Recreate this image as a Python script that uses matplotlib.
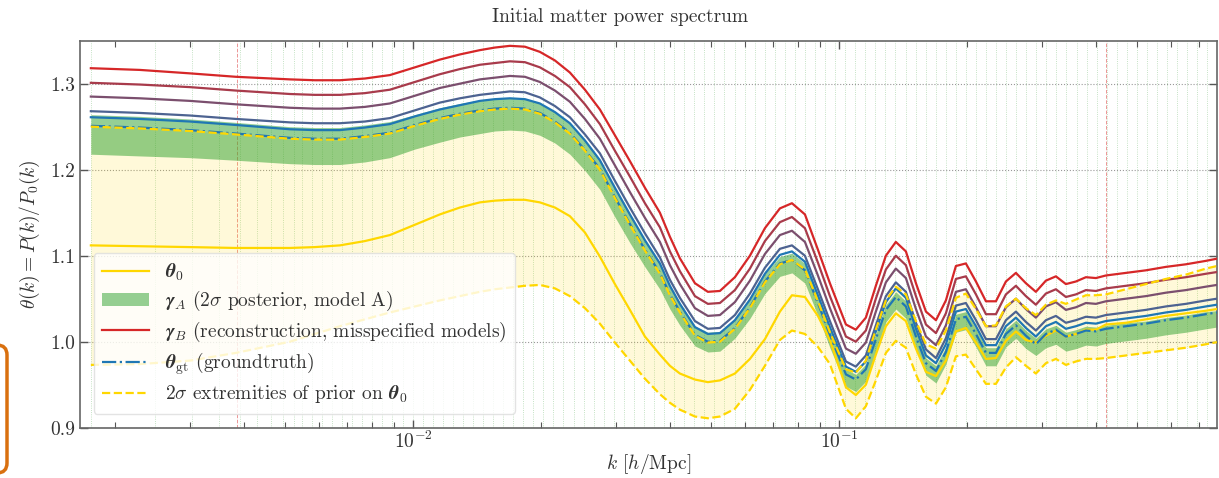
import matplotlib
matplotlib.use("Agg")
import matplotlib.pyplot as plt
import numpy as np
from matplotlib.lines import Line2D
from matplotlib.patches import Patch, FancyBboxPatch
from matplotlib.mathtext import MathTextParser
from matplotlib.ticker import FormatStrFormatter, LogLocator, NullFormatter

plt.rcParams['font.family'] = 'serif'
plt.rcParams['font.serif'] = ['cmr10', 'DejaVu Serif']
plt.rcParams['mathtext.fontset'] = 'cm'
plt.rcParams['axes.formatter.use_mathtext'] = True
plt.rcParams['axes.unicode_minus'] = False

#### DATA
k = [0.001751, 0.002283, 0.002991, 0.003836, 0.005136, 0.005877, 0.006728, 0.007700, 0.008817, 0.010093,
     0.01155, 0.01287, 0.01434, 0.01555, 0.01687, 0.01829, 0.01983, 0.02151, 0.02332, 0.02530,
     0.02743, 0.02975, 0.03226, 0.03499, 0.03794, 0.04005, 0.04227, 0.04585, 0.04917,
     0.05248, 0.05690, 0.06172, 0.06693, 0.07258, 0.07745, 0.08309, 0.08913, 0.09510, 0.1037,
     0.1094, 0.1155, 0.1219, 0.1287, 0.1358, 0.1434, 0.1514, 0.1598, 0.1687, 0.1780,
     0.1879, 0.1983, 0.2094, 0.2210, 0.2333, 0.2462, 0.2599, 0.2743, 0.2895, 0.3056,
     0.3226, 0.3405, 0.3594, 0.3794, 0.4005, 0.4227, 0.4710, 0.5248, 0.5847, 0.6514,
     0.7258, 0.7700]

# groundtruth
theta_gt = [1.251, 1.249, 1.246, 1.242, 1.237, 1.236, 1.236, 1.239, 1.243, 1.252,
            1.260, 1.265, 1.269, 1.271, 1.272, 1.271, 1.266, 1.256, 1.243, 1.223,
            1.201, 1.168, 1.137, 1.107, 1.080, 1.055, 1.035, 1.008, 1.000,
            1.001, 1.016, 1.040, 1.070, 1.091, 1.095, 1.083, 1.045, 1.008, 0.962,
            0.956, 0.968, 1.003, 1.037, 1.052, 1.041, 1.006, 0.975, 0.966, 0.988,
            1.026, 1.029, 1.009, 0.987, 0.987, 1.009, 1.019, 1.007, 0.997, 1.009,
            1.014, 1.006, 1.009, 1.013, 1.012, 1.015, 1.018, 1.021, 1.025, 1.028,
            1.032, 1.034]

# prior mean
theta_0 = [1.112, 1.111, 1.110, 1.109, 1.109, 1.110, 1.112, 1.117, 1.124, 1.136,
           1.148, 1.156, 1.162, 1.164, 1.165, 1.165, 1.162, 1.156, 1.146, 1.127,
           1.099, 1.067, 1.037, 1.006, 0.985, 0.972, 0.963, 0.956, 0.953,
           0.955, 0.963, 0.980, 1.003, 1.035, 1.054, 1.052, 1.030, 1.002, 0.947,
           0.938, 0.950, 0.985, 1.018, 1.033, 1.024, 0.992, 0.965, 0.960, 0.978,
           1.012, 1.016, 0.999, 0.980, 0.981, 1.001, 1.012, 1.002, 0.999, 1.007,
           1.013, 1.006, 1.009, 1.014, 1.014, 1.020, 1.022, 1.026, 1.030, 1.033,
           1.036, 1.038]

# 2 sigma extremities of the prior
prior_hi = [1.250, 1.248, 1.245, 1.241, 1.236, 1.235, 1.235, 1.238, 1.242, 1.251,
            1.259, 1.264, 1.268, 1.270, 1.271, 1.270, 1.265, 1.255, 1.242, 1.222,
            1.200, 1.167, 1.136, 1.106, 1.079, 1.054, 1.034, 1.007, 0.999,
            1.000, 1.015, 1.039, 1.069, 1.090, 1.095, 1.084, 1.047, 1.011, 0.968,
            0.964, 0.978, 1.014, 1.048, 1.064, 1.055, 1.024, 0.997, 0.992, 1.013,
            1.051, 1.056, 1.038, 1.018, 1.019, 1.041, 1.050, 1.039, 1.031, 1.043,
            1.048, 1.044, 1.049, 1.054, 1.054, 1.055, 1.061, 1.067, 1.073, 1.078,
            1.085, 1.088]
prior_lo = [0.973, 0.974, 0.978, 0.987, 1.000, 1.009, 1.018, 1.026, 1.034, 1.041,
            1.048, 1.053, 1.058, 1.061, 1.063, 1.065, 1.066, 1.062, 1.053, 1.039,
            1.021, 0.999, 0.978, 0.957, 0.939, 0.929, 0.921, 0.913, 0.911,
            0.913, 0.922, 0.944, 0.972, 1.002, 1.013, 1.009, 0.994, 0.974, 0.922,
            0.911, 0.925, 0.955, 0.987, 1.001, 0.993, 0.962, 0.936, 0.928, 0.947,
            0.983, 0.985, 0.968, 0.951, 0.951, 0.970, 0.982, 0.972, 0.963, 0.975,
            0.980, 0.973, 0.977, 0.980, 0.980, 0.981, 0.984, 0.987, 0.990, 0.993,
            0.997, 0.9995]

# 2 sigma posterior, model A
postA_hi = [1.264, 1.262, 1.259, 1.255, 1.250, 1.249, 1.249, 1.252, 1.256, 1.264,
            1.272, 1.277, 1.281, 1.283, 1.283, 1.282, 1.277, 1.267, 1.254, 1.234,
            1.212, 1.179, 1.147, 1.117, 1.090, 1.065, 1.045, 1.018, 1.011,
            1.012, 1.026, 1.049, 1.079, 1.099, 1.103, 1.091, 1.053, 1.015, 0.968,
            0.962, 0.974, 1.009, 1.043, 1.058, 1.047, 1.012, 0.981, 0.972, 0.994,
            1.032, 1.035, 1.015, 0.993, 0.993, 1.015, 1.025, 1.013, 1.004, 1.015,
            1.019, 1.011, 1.014, 1.018, 1.017, 1.019, 1.022, 1.024, 1.028, 1.031,
            1.035, 1.036]
postA_lo = [1.218, 1.216, 1.214, 1.211, 1.207, 1.206, 1.206, 1.209, 1.214, 1.224,
            1.232, 1.238, 1.242, 1.245, 1.246, 1.245, 1.240, 1.231, 1.218, 1.199,
            1.177, 1.145, 1.115, 1.087, 1.061, 1.038, 1.019, 0.995, 0.988,
            0.989, 1.004, 1.027, 1.056, 1.076, 1.080, 1.068, 1.030, 0.993, 0.948,
            0.942, 0.954, 0.989, 1.023, 1.038, 1.027, 0.992, 0.961, 0.952, 0.974,
            1.011, 1.014, 0.994, 0.972, 0.972, 0.994, 1.004, 0.992, 0.984, 0.993,
            0.997, 0.989, 0.992, 0.996, 0.995, 0.998, 1.001, 1.004, 1.008, 1.011,
            1.015, 1.017]

# reconstructions with misspecified models (red -> blue)
gammaB_1 = [1.318, 1.316, 1.312, 1.308, 1.305, 1.304, 1.304, 1.306, 1.310, 1.319,
            1.328, 1.334, 1.339, 1.342, 1.344, 1.343, 1.337, 1.327, 1.313, 1.293,
            1.270, 1.240, 1.210, 1.179, 1.150, 1.122, 1.097, 1.068, 1.058,
            1.059, 1.075, 1.100, 1.132, 1.155, 1.161, 1.148, 1.107, 1.068, 1.020,
            1.014, 1.028, 1.065, 1.100, 1.116, 1.105, 1.068, 1.035, 1.025, 1.048,
            1.088, 1.091, 1.070, 1.047, 1.047, 1.070, 1.080, 1.068, 1.058, 1.071,
            1.076, 1.067, 1.070, 1.075, 1.074, 1.077, 1.080, 1.083, 1.087, 1.090,
            1.094, 1.0965]
gammaB_2 = [1.301, 1.299, 1.296, 1.292, 1.288, 1.287, 1.287, 1.289, 1.293, 1.302,
            1.311, 1.317, 1.322, 1.324, 1.326, 1.325, 1.319, 1.309, 1.296, 1.276,
            1.253, 1.222, 1.192, 1.161, 1.133, 1.105, 1.082, 1.053, 1.044,
            1.045, 1.060, 1.085, 1.117, 1.139, 1.145, 1.132, 1.092, 1.053, 1.006,
            1.000, 1.013, 1.050, 1.084, 1.100, 1.089, 1.053, 1.020, 1.010, 1.033,
            1.073, 1.076, 1.055, 1.032, 1.032, 1.055, 1.065, 1.053, 1.043, 1.056,
            1.061, 1.052, 1.055, 1.060, 1.059, 1.062, 1.065, 1.068, 1.072, 1.075,
            1.079, 1.081]
gammaB_3 = [1.285, 1.283, 1.280, 1.276, 1.272, 1.271, 1.271, 1.273, 1.277, 1.286,
            1.295, 1.300, 1.305, 1.307, 1.309, 1.308, 1.302, 1.292, 1.279, 1.259,
            1.236, 1.205, 1.174, 1.144, 1.116, 1.089, 1.067, 1.039, 1.030,
            1.031, 1.046, 1.071, 1.102, 1.124, 1.129, 1.116, 1.077, 1.039, 0.992,
            0.986, 0.999, 1.035, 1.069, 1.085, 1.074, 1.038, 1.006, 0.996, 1.019,
            1.058, 1.061, 1.040, 1.018, 1.018, 1.040, 1.050, 1.038, 1.028, 1.041,
            1.046, 1.037, 1.040, 1.045, 1.044, 1.047, 1.050, 1.053, 1.057, 1.060,
            1.064, 1.066]
gammaB_4 = [1.268, 1.266, 1.263, 1.259, 1.255, 1.254, 1.254, 1.256, 1.260, 1.269,
            1.278, 1.283, 1.287, 1.289, 1.291, 1.290, 1.284, 1.274, 1.261, 1.241,
            1.219, 1.187, 1.156, 1.126, 1.098, 1.072, 1.051, 1.024, 1.015,
            1.016, 1.031, 1.056, 1.086, 1.108, 1.112, 1.100, 1.061, 1.024, 0.977,
            0.971, 0.984, 1.019, 1.053, 1.069, 1.058, 1.022, 0.991, 0.981, 1.004,
            1.042, 1.045, 1.025, 1.003, 1.003, 1.025, 1.035, 1.023, 1.013, 1.025,
            1.030, 1.022, 1.025, 1.029, 1.028, 1.031, 1.034, 1.037, 1.041, 1.044,
            1.048, 1.050]
gammaB_5 = [1.261, 1.259, 1.256, 1.252, 1.247, 1.246, 1.246, 1.249, 1.253, 1.262,
            1.270, 1.275, 1.280, 1.282, 1.283, 1.282, 1.277, 1.267, 1.254, 1.234,
            1.211, 1.179, 1.148, 1.118, 1.091, 1.065, 1.044, 1.017, 1.009,
            1.010, 1.025, 1.049, 1.079, 1.101, 1.105, 1.093, 1.054, 1.017, 0.971,
            0.965, 0.977, 1.012, 1.046, 1.062, 1.051, 1.015, 0.984, 0.975, 0.997,
            1.035, 1.038, 1.018, 0.996, 0.996, 1.018, 1.028, 1.016, 1.006, 1.018,
            1.023, 1.015, 1.018, 1.022, 1.021, 1.024, 1.027, 1.030, 1.034, 1.037,
            1.041, 1.043]
gammaB = [gammaB_1, gammaB_2, gammaB_3, gammaB_4, gammaB_5]

# k bins drawn as the faint vertical grid, and the two reference scales
k_first = 0.001751
k_shells = [k_first * np.sqrt(n) for n in range(1, 10)]
k_logbins = list(0.08309 * 10 ** (0.023615 * np.arange(-50, 41)))
k_marks = [0.00385, 0.4227]

#### PLOT
def bold(s):
    try:
        MathTextParser('agg').parse(r'$\boldsymbol{\theta}$')
        return r'\boldsymbol{%s}' % s
    except Exception:
        return r'\mathbf{%s}' % s

txt = '#333333'
fig = plt.figure(figsize=(12.19, 4.78), dpi=100)
ax = fig.add_axes([0.0656, 0.1052, 0.9325, 0.8097])

for kb in k_shells + k_logbins:
    ax.axvline(kb, color='#7fbf7f', lw=0.6, ls=':', alpha=0.6, zorder=0)
for kv in k_marks:
    ax.axvline(kv, color='#e05050', lw=0.7, ls='--', alpha=0.6, zorder=0.5)
for yv in [0.9, 1.0, 1.1, 1.2, 1.3]:
    ax.axhline(yv, color='#999999', lw=0.8, ls=':', zorder=0.5)

ax.fill_between(k, prior_lo, prior_hi, color='gold', alpha=0.15, lw=0, zorder=1)
ax.fill_between(k, postA_lo, postA_hi, color='#2ca02c', alpha=0.5, lw=0, zorder=2)
ax.plot(k, theta_0, color='gold', lw=1.6, zorder=3)

c_red = np.array(matplotlib.colors.to_rgb('#d62728'))
c_blue = np.array(matplotlib.colors.to_rgb('#1f77b4'))
for i, g in enumerate(gammaB):
    t = i / (len(gammaB) - 1)
    ax.plot(k, g, color=(1 - t) * c_red + t * c_blue, lw=1.6, zorder=4)

ax.plot(k, theta_gt, color='#1f77b4', lw=1.6, ls='-.', zorder=5)
ax.plot(k, prior_hi, color='gold', lw=1.6, ls='--', zorder=6)
ax.plot(k, prior_lo, color='gold', lw=1.6, ls='--', zorder=6)

ax.set_xscale('log')
ax.set_xlim(0.001651, 0.7693)
ax.set_ylim(0.9, 1.35)
ax.set_yticks([0.9, 1.0, 1.1, 1.2, 1.3])
ax.yaxis.set_major_formatter(FormatStrFormatter('%.1f'))
ax.xaxis.set_minor_locator(LogLocator(base=10, subs=np.arange(2, 10)))
ax.xaxis.set_minor_formatter(NullFormatter())
ax.tick_params(which='both', direction='in', top=True, right=True, colors='#555555',
               labelcolor=txt, labelsize=14)
ax.tick_params(which='major', length=6, width=1)
ax.tick_params(which='minor', length=4, width=0.8)
ax.tick_params(axis='x', which='major', pad=2)
for sp in ax.spines.values():
    sp.set_color('#666666')
    sp.set_linewidth(1.2)

ax.set_xlabel(r'$k$ [$h$/Mpc]', fontsize=14, color=txt, labelpad=0)
ax.set_ylabel(r'$\theta(k) = P(k)/P_0(k)$', fontsize=14, color=txt, labelpad=6)
fig.text(620 / 1219, 1 - 17 / 478, 'Initial matter power spectrum', ha='center', va='center',
         fontsize=14, color=txt)

handles = [
    Line2D([], [], color='gold', lw=1.6),
    Patch(facecolor='#2ca02c', alpha=0.5, lw=0),
    Line2D([], [], color='#d62728', lw=1.6),
    Line2D([], [], color='#1f77b4', lw=1.6, ls='-.'),
    Line2D([], [], color='gold', lw=1.6, ls='--'),
]
labels = [
    r'$%s_0$' % bold(r'\theta'),
    r'$%s_A$ (2$\sigma$ posterior, model A)' % bold(r'\gamma'),
    r'$%s_B$ (reconstruction, misspecified models)' % bold(r'\gamma'),
    r'$%s_{\mathrm{gt}}$ (groundtruth)' % bold(r'\theta'),
    r'2$\sigma$ extremities of prior on $%s_0$' % bold(r'\theta'),
]
leg = ax.legend(handles, labels, loc='lower left', fontsize=14, frameon=True, fancybox=True,
                framealpha=0.8, edgecolor='#dddddd', handlelength=2.4, labelspacing=0.33,
                borderaxespad=0.7, borderpad=0.45)
for t in leg.get_texts():
    t.set_color(txt)
leg.set_zorder(10)

box = FancyBboxPatch((-0.3, 0.05), 0.37, 1.28, boxstyle='round,pad=0,rounding_size=0.1',
                     transform=fig.dpi_scale_trans, facecolor='none', edgecolor='#d9700f',
                     lw=2.5, clip_on=False)
fig.patches.append(box)

fig.savefig('out.png', dpi=100)
